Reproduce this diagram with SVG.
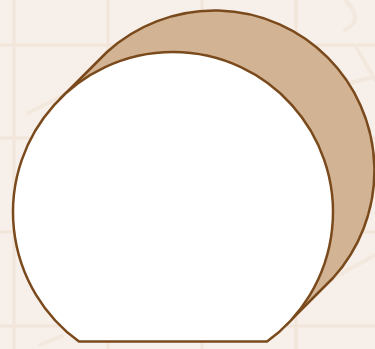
<svg xmlns="http://www.w3.org/2000/svg" width="375" height="349" viewBox="0 0 375 349">
<style>
.grid{stroke:#f2e6da;stroke-width:3;fill:none}
.deco{stroke:#f3e8dd;stroke-width:4;fill:none;stroke-linecap:round}
.outline{stroke:#7a4a1c;stroke-width:2.5;stroke-linejoin:round}
</style>
<rect width="375" height="349" fill="#f7efe9"/>
<g id="background">
<path class="grid" d="M14 0V349M108 0V349M202 0V349M296 0V349M0 45H375M0 138H375M0 232H375M0 326H375"/>
<path class="deco" d="M28 113L60 97M50 257L40 263M40 345L62 336M150 338L168 326M345 30Q365 20 345 0M355 45L375 80M340 85L370 78M330 280L375 255"/>
</g>
<g id="back-shape">
<path class="outline" fill="#d2b495" d="M60 99L107 52A160 160 0 0 1 333 278L286 325Z"/>
</g>
<g id="front-shape">
<path class="outline" fill="#ffffff" d="M79 341.6A160 160 0 1 1 267 341.6Z"/>
</g>
<g id="connectors"></g>
</svg>
